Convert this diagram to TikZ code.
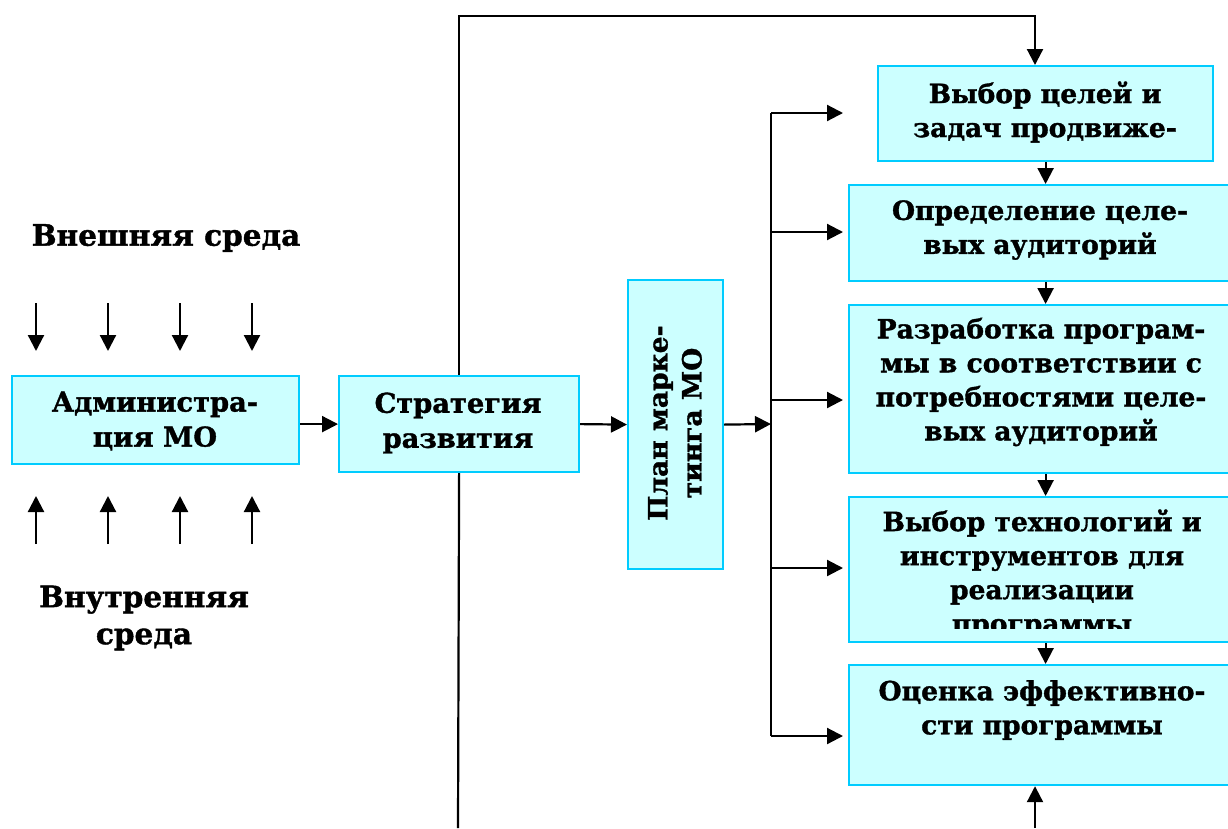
\documentclass[tikz,border=0pt]{standalone}
\usepackage{fontspec}
\setmainfont{DejaVu Serif}[BoldFeatures={FakeBold=1.3}]
\usetikzlibrary{arrows.meta}
\definecolor{boxfill}{RGB}{204,255,255}
\definecolor{boxline}{RGB}{0,204,255}
\begin{document}
\begin{tikzpicture}[x=1pt,y=-1pt,
  blk/.style={draw=boxline, fill=boxfill, line width=2.2pt, inner sep=0pt, anchor=north west},
  txt/.style={font=\fontsize{26.5}{34}\selectfont\bfseries, align=center, inner sep=0pt},
  txtb/.style={font=\fontsize{27.3}{35}\selectfont\bfseries, align=center, inner sep=0pt},
  lbl/.style={font=\fontsize{29.5}{37}\selectfont\bfseries, align=center, inner sep=0pt},
  ln/.style={line width=2.2pt},
  arr/.style={ln, -{Triangle[length=16pt,width=16pt]}},
]
\useasboundingbox (0,0) rectangle (1228,828);
% boxes
\node[blk, minimum width=287pt, minimum height=88pt] (adm) at (11,375) {};
\node[blk, minimum width=240pt, minimum height=96pt] (str) at (338,375) {};
\node[blk, minimum width=95pt, minimum height=289pt] (plan) at (627,279) {};
\node[blk, minimum width=335pt, minimum height=95pt] (g1) at (877,65) {};
\node[blk, minimum width=385pt, minimum height=96pt] (g2) at (848,184) {};
\node[blk, minimum width=385pt, minimum height=168pt] (g3) at (848,304) {};
\node[blk, minimum width=385pt, minimum height=145pt] (g4) at (848,496) {};
\node[blk, minimum width=385pt, minimum height=120pt] (g5) at (848,664) {};
% texts
\node[lbl] (ext) at (166,238) {Внешняя среда};
\node[lbl] (int) at (144,618) {Внутренняя\\среда};
\node[txtb] (admt) at (155,421) {Администра-\\ция МО};
\node[txtb] (strt) at (458,423) {Стратегия\\развития};
\node[txt, rotate=90] (plant) at (675,423) {План марке-\\тинга МО};
\node[txt] (g1t) at (1045,112) {Выбор целей и\\задач продвиже-};
\node[txt] (g2t) at (1040,230) {Определение целе-\\вых аудиторий};
\node[txt] (g3t) at (1041,382) {Разработка програм-\\мы в соответствии с\\потребностями целе-\\вых аудиторий};
\begin{scope}
\clip (848,496) rectangle (1228,628);
\node[txt] (g4t) at (1042,574) {Выбор технологий и\\инструментов для\\реализации\\программы};
\end{scope}
\node[txt] (g5t) at (1042,710) {Оценка эффективно-\\сти программы};
% environment arrows
\foreach \x [count=\i] in {36,108,180,252} {
  \coordinate (da\i) at (\x,303); \coordinate (db\i) at (\x,351);
  \coordinate (ua\i) at (\x,544); \coordinate (ub\i) at (\x,496);
  \draw[arr] (da\i) -- (db\i);
  \draw[arr] (ua\i) -- (ub\i);
}
% main flow
\draw[arr] (adm.east |- str.west) -- (str.west);
\draw[arr] (str.east) -- (plan.west);
\coordinate (bus) at (771,424);
\draw[arr] (plan.east) -- (bus);
\coordinate (b1) at (771,113); \coordinate (t1) at (843,113);
\coordinate (b2) at (771,232); \coordinate (t2) at (843,232);
\coordinate (b3) at (771,400); \coordinate (t3) at (843,400);
\coordinate (b4) at (771,568); \coordinate (t4) at (843,568);
\coordinate (b5) at (771,736); \coordinate (t5) at (843,736);
\draw[ln] (b1) -- (b5);
\foreach \i in {1,...,5} { \draw[arr] (b\i) -- (t\i); }
% loop lines
\coordinate (topR) at (1035,16);
\draw[arr] (str.north) |- (topR) -- (topR |- g1.north);
\coordinate (botL) at (458,828);
\draw[ln] (str.south) -- (botL);
\coordinate (botR) at (1035,828);
\draw[arr] (botR) -- (botR |- g5.south);
% chain
\draw[arr] (g1.south) -- (g1.south |- g2.north);
\draw[arr] (g1.south |- g2.south) -- (g1.south |- g3.north);
\draw[arr] (g1.south |- g3.south) -- (g1.south |- g4.north);
\draw[arr] (g1.south |- g4.south) -- (g1.south |- g5.north);
\end{tikzpicture}
\end{document}
